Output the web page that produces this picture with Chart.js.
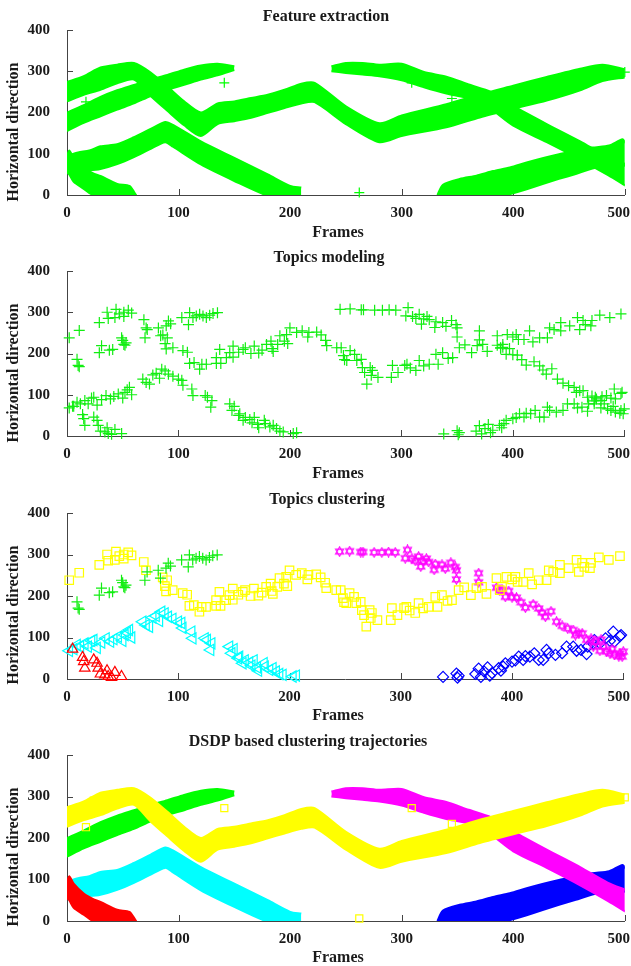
<!DOCTYPE html>
<html><head><meta charset="utf-8">
<script src="https://cdn.jsdelivr.net/npm/chart.js@4.4.1/dist/chart.umd.min.js"></script>
<style>
html,body{margin:0;padding:0;background:#fff;overflow:hidden;width:631px;height:966px}
canvas{position:absolute;left:0}
</style></head><body>
<canvas id="c0" width="631" height="241" style="top:0px"></canvas>
<canvas id="c1" width="631" height="241" style="top:241px"></canvas>
<canvas id="c2" width="631" height="241" style="top:483px"></canvas>
<canvas id="c3" width="631" height="241" style="top:725px"></canvas>
<script>
// ---------------- DATA ----------------
const xTicks = [0, 100, 200, 300, 400, 500];
const yTicks = [0, 100, 200, 300, 400];
const panelTitles = ["Feature extraction", "Topics modeling", "Topics clustering", "DSDP based clustering trajectories"];
const xTitle = "Frames";
const yTitle = "Horizontal direction";

// dense trajectory bands (upper / lower edge of each band, by frame)
const redFrames = [0, 2, 6, 15, 24, 30, 45, 56, 60, 63];
const redUpper  = [95, 108, 90, 66, 52, 46, 27, 22, 8, -5];
const redLower  = [55, 50, 32, 15, -2, -10, -10, -10, -10, -10];

const cyanFrames = [0, 10, 20, 30, 45, 60, 75, 88, 95, 120, 150, 180, 200, 210];
const cyanUpper  = [95, 103, 108, 118, 123, 140, 160, 177, 170, 130, 90, 50, 22, 18];
const cyanLower  = [55, 60, 60, 63, 75, 92, 112, 128, 117, 74, 34, -2, -10, -10];

const greenFrames = [0, 15, 30, 45, 60, 75, 90, 105, 120, 135, 150];
const greenUpper  = [200, 218, 238, 254, 267, 280, 291, 304, 314, 318, 312];
const greenLower  = [155, 175, 191, 207, 222, 240, 255, 267, 280, 290, 303];

const yellowFrames = [0, 15, 30, 45, 60, 75, 90, 105, 120, 135, 150, 165, 180, 195, 210, 222, 250, 280, 300, 340, 370, 400, 430, 460, 480, 500];
const yellowUpper  = [274, 288, 309, 316, 320, 297, 263, 227, 200, 222, 227, 235, 243, 255, 270, 272, 215, 174, 193, 220, 244, 265, 286, 306, 316, 305];
const yellowLower  = [227, 243, 255, 271, 280, 240, 204, 169, 143, 172, 179, 187, 199, 211, 222, 225, 172, 128, 143, 164, 188, 209, 229, 254, 276, 285];

const magentaFrames = [237, 250, 265, 280, 300, 320, 340, 360, 380, 400, 430, 460, 485, 501];
const magentaUpper  = [312, 320, 320, 316, 318, 298, 287, 268, 250, 216, 172, 130, 92, 75];
const magentaLower  = [300, 296, 292, 288, 278, 261, 246, 234, 208, 168, 128, 86, 48, 22];

const blueFrames = [332, 337, 352, 367, 382, 397, 412, 427, 441, 456, 471, 486, 498, 501];
const blueUpper  = [0, 25, 39, 47, 58, 67, 79, 90, 99, 107, 115, 120, 135, 125];
const blueLower  = [-10, -10, -10, -10, -10, 2, 14, 27, 39, 51, 64, 70, 72, 70];

// isolated outlier detections
const strayFrames = [17, 24, 141, 309, 345, 262, 500];
const strayValues = [226, 290, 272, 272, 234, 6, 298];

// topic points, by cluster (frame, horizontal position)
const squarePts = [[2,238],[11,256],[29,275],[36,300],[37,285],[43,287],[44,307],[47,296],[51,300],[51,290],[55,305],[58,298],[69,282],[71,262],[86,245],[88,224],[90,238],[89,211],[95,214],[104,207],[108,203],[110,176],[114,178],[119,162],[121,174],[125,174],[134,190],[134,176],[138,176],[137,210],[143,190],[146,202],[149,218],[149,191],[154,203],[158,210],[160,214],[165,200],[168,218],[172,201],[175,208],[179,222],[183,230],[184,212],[185,205],[189,222],[191,243],[195,230],[197,246],[198,224],[200,262],[206,251],[211,255],[216,240],[217,251],[224,252],[228,245],[232,232],[233,219],[242,214],[246,214],[248,195],[249,185],[251,183],[254,207],[258,198],[260,183],[264,186],[265,166],[267,154],[269,126],[272,166],[273,147],[274,159],[279,142],[291,142],[292,171],[297,154],[303,171],[305,174],[308,165],[313,159],[316,183],[320,170],[325,174],[331,198],[333,174],[337,202],[342,188],[346,190],[352,214],[357,221],[363,202],[368,219],[373,222],[377,205],[386,243],[389,214],[391,222],[395,246],[400,240],[403,246],[405,234],[410,234],[415,255],[418,228],[424,238],[431,238],[433,262],[437,258],[443,275],[443,255],[451,267],[458,287],[460,258],[463,280],[465,270],[470,267],[471,280],[478,293],[487,287],[497,296]];
const crossPts = [[9,186],[10,171],[11,168],[29,202],[31,219],[38,208],[41,210],[49,238],[50,232],[51,222],[52,220],[53,226],[70,238],[72,258],[82,262],[84,243],[89,267],[91,279],[93,272],[103,287],[109,270],[110,299],[113,287],[116,291],[119,295],[122,291],[125,287],[128,293],[131,297],[135,299]];
const triPts = [[5,72],[14,52],[15,42],[16,26],[24,46],[27,38],[28,26],[30,12],[34,10],[36,20],[37,6],[40,4],[43,16],[49,6]];
const leftTriPts = [[2,68],[6,72],[9,82],[12,78],[16,86],[19,78],[22,92],[24,94],[27,75],[31,88],[35,98],[39,90],[42,96],[46,102],[50,92],[52,106],[54,112],[56,118],[58,100],[68,138],[71,130],[74,126],[77,148],[80,152],[83,140],[85,162],[88,158],[91,150],[95,145],[100,138],[103,135],[104,123],[112,114],[113,98],[124,98],[126,94],[129,70],[130,86],[146,78],[148,62],[150,72],[154,50],[155,54],[158,38],[160,45],[164,40],[166,32],[168,45],[171,28],[172,20],[177,38],[178,30],[182,22],[185,26],[188,18],[191,12],[194,10],[203,6],[206,8]];
const hexPts = [[245,307],[254,308],[264,306],[266,306],[276,305],[283,305],[289,306],[295,305],[304,291],[306,311],[310,290],[313,285],[316,295],[318,271],[320,284],[323,290],[325,282],[330,263],[331,277],[337,275],[340,266],[345,280],[349,270],[350,262],[350,240],[370,255],[370,233],[386,220],[389,213],[391,215],[394,198],[397,212],[400,197],[404,196],[408,185],[412,172],[419,180],[424,170],[427,160],[430,150],[435,163],[440,138],[445,128],[450,122],[455,118],[457,106],[460,110],[463,110],[467,94],[471,97],[473,78],[475,90],[479,68],[480,95],[482,78],[485,66],[488,62],[490,72],[492,58],[496,55],[497,62],[499,54],[500,66]];
const diamondPts = [[338,5],[350,13],[351,3],[352,8],[367,12],[370,25],[372,5],[375,18],[378,28],[380,8],[382,14],[388,26],[390,20],[392,30],[394,38],[400,42],[403,45],[406,54],[410,46],[412,55],[416,54],[420,62],[424,46],[428,46],[431,70],[433,62],[439,58],[445,62],[449,78],[455,78],[458,68],[462,70],[467,60],[468,78],[473,85],[474,94],[479,86],[484,98],[488,92],[491,114],[492,90],[497,103],[498,106]];

// ---------------- STYLE ----------------
const FONT = '"Liberation Serif", "Times New Roman", serif';
const TEXT = '#1a1a1a';
const AXIS = '#444';
const C = { green: '#00ff00', red: '#ff0000', cyan: '#00ffff', yellow: '#ffff00', magenta: '#ff00ff', blue: '#0000ff' };

function band(frames, upper, lower, color) {
  const up = frames.map((f, i) => ({ x: f, y: upper[i] }));
  const lo = frames.map((f, i) => ({ x: f, y: lower[i] }));
  const common = { borderColor: color, backgroundColor: color, borderWidth: 2, pointRadius: 0, tension: 0.25 };
  return [Object.assign({ data: up, fill: '+1' }, common), Object.assign({ data: lo, fill: false }, common)];
}
function pts(pairs, style, color, r, rot) {
  return { data: pairs.map(([x, y]) => ({ x, y })), showLine: false, fill: false,
    pointStyle: style, pointRadius: r, pointHoverRadius: r, pointBorderColor: color,
    pointBackgroundColor: 'rgba(0,0,0,0)', pointBorderWidth: 1.2, pointRotation: rot || 0,
    borderColor: color, backgroundColor: 'rgba(0,0,0,0)', clip: false };
}
function hexagram(color, size) {
  const c = document.createElement('canvas'); c.width = c.height = size;
  const g = c.getContext('2d'); const r = size / 2 - 0.8, cx = size / 2, cy = size / 2;
  g.strokeStyle = color; g.lineWidth = 1.1;
  for (const off of [-Math.PI / 2, Math.PI / 2]) {
    g.beginPath();
    for (let k = 0; k < 3; k++) {
      const a = off + k * 2 * Math.PI / 3;
      const px = cx + r * Math.cos(a), py = cy + r * Math.sin(a);
      if (k) g.lineTo(px, py); else g.moveTo(px, py);
    }
    g.closePath(); g.stroke();
  }
  return c;
}
const strayPairs = strayFrames.map((f, i) => [f, strayValues[i]]);

const decor = {
  id: 'decor',
  beforeDatasetsDraw(chart, args, o) {
    const { ctx, chartArea: a, scales: { x, y } } = chart;
    ctx.save();
    ctx.strokeStyle = AXIS; ctx.lineWidth = 1;
    ctx.beginPath();
    xTicks.forEach(v => { if (v === 0) return; const px = Math.round(x.getPixelForValue(v)) + 0.5; ctx.moveTo(px, a.bottom); ctx.lineTo(px, a.bottom - 6); });
    yTicks.forEach(v => { if (v === 0) return; const py = Math.round(y.getPixelForValue(v)) + 0.5; ctx.moveTo(a.left, py); ctx.lineTo(a.left + 6, py); });
    ctx.stroke();
    ctx.restore();
  },
  afterDraw(chart, args, o) {
    const { ctx, chartArea: a, scales: { x } } = chart;
    ctx.save();
    ctx.fillStyle = TEXT;
    ctx.textBaseline = 'middle';
    ctx.textAlign = 'center';
    ctx.font = 'bold 15px ' + FONT;
    xTicks.forEach(v => {
      const s = String(v); const w = ctx.measureText(s).width;
      let cx = x.getPixelForValue(v);
      cx = Math.min(cx, chart.width - 1 - w / 2);
      ctx.fillText(s, cx, a.bottom + 18);
    });
    ctx.font = 'bold 16px ' + FONT;
    ctx.fillText(o.title, o.titleX, 17);
    ctx.fillText(xTitle, 338, 232.5);
    ctx.translate(14, 132); ctx.rotate(-Math.PI / 2);
    ctx.fillText(yTitle, 0, 0);
    ctx.restore();
  }
};

function makeChart(id, datasets, cfg) {
  return new Chart(document.getElementById(id), {
    type: 'line',
    data: { datasets },
    options: {
      responsive: false, animation: false, devicePixelRatio: 1, events: [],
      layout: { padding: { top: 30, right: 6, left: 0, bottom: 0 } },
      plugins: { legend: { display: false }, tooltip: { enabled: false }, title: { display: false }, decor: cfg },
      scales: {
        x: { type: 'linear', min: 0, max: 500,
          ticks: { display: false, stepSize: 100 },
          grid: { display: false, drawTicks: false },
          border: { display: true, color: AXIS, width: 1 },
          afterFit: s => { s.height = 241 - cfg.bottom; s.paddingLeft = 0; s.paddingRight = 0; } },
        y: { type: 'linear', min: 0, max: 400,
          ticks: { stepSize: 100, padding: 17, color: TEXT, font: { family: FONT, size: 15, weight: 'bold' } },
          grid: { display: false, drawTicks: false },
          border: { display: true, color: AXIS, width: 1 },
          afterFit: s => { s.width = 67; } }
      }
    },
    plugins: [decor]
  });
}

// Panel 1: feature extraction (all green)
const g = C.green;
makeChart('c0', [
  pts(strayPairs, 'cross', g, 5),
  ...band(redFrames, redUpper, redLower, g),
  ...band(yellowFrames, yellowUpper, yellowLower, g),
  ...band(greenFrames, greenUpper, greenLower, g),
  ...band(magentaFrames, magentaUpper, magentaLower, g),
  ...band(cyanFrames, cyanUpper, cyanLower, g),
  ...band(blueFrames, blueUpper, blueLower, g)
], { title: panelTitles[0], titleX: 326, bottom: 195 });

// Panel 2: topics modeling (all points, green crosses)
const allTopicPts = [].concat(squarePts, crossPts, triPts, leftTriPts, hexPts, diamondPts);
makeChart('c1', [pts(allTopicPts, 'cross', '#11ee11', 5.5)],
  { title: panelTitles[1], titleX: 329, bottom: 195 });

// Panel 3: topics clustering
makeChart('c2', [
  pts(triPts, 'triangle', C.red, 6),
  pts(crossPts, 'cross', '#11ee11', 5.5),
  pts(squarePts, 'rect', C.yellow, 6),
  pts(leftTriPts, 'triangle', C.cyan, 6.5, -90),
  pts(hexPts, hexagram(C.magenta, 11), C.magenta, 5),
  pts(diamondPts, 'rectRot', C.blue, 5.5)
], { title: panelTitles[2], titleX: 327, bottom: 196 });

// Panel 4: DSDP based clustering trajectories
makeChart('c3', [
  pts(strayPairs, 'rect', C.yellow, 5),
  ...band(redFrames, redUpper, redLower, C.red),
  ...band(yellowFrames, yellowUpper, yellowLower, C.yellow),
  ...band(greenFrames, greenUpper, greenLower, C.green),
  ...band(magentaFrames, magentaUpper, magentaLower, C.magenta),
  ...band(cyanFrames, cyanUpper, cyanLower, C.cyan),
  ...band(blueFrames, blueUpper, blueLower, C.blue)
], { title: panelTitles[3], titleX: 308, bottom: 196 });
</script>
</body></html>
